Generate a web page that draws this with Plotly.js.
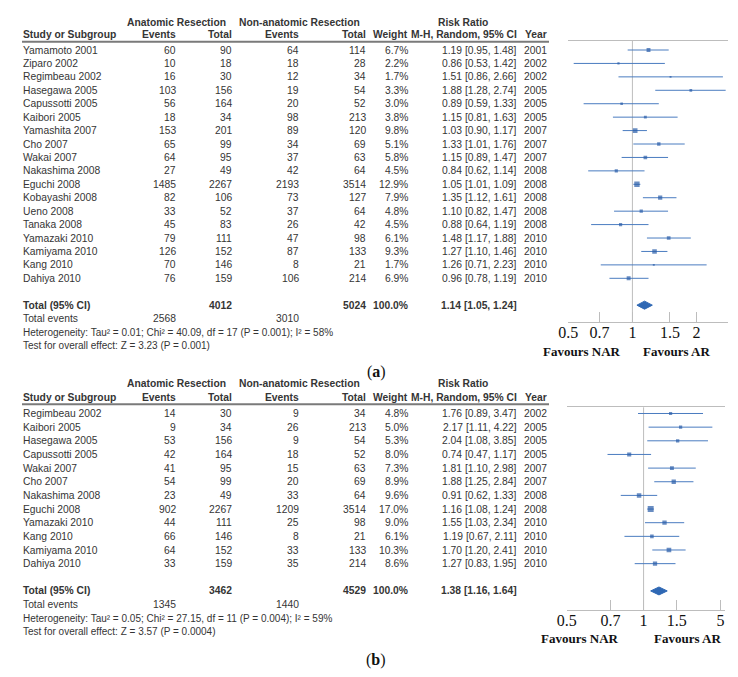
<!DOCTYPE html>
<html><head><meta charset="utf-8">
<script src="https://cdn.plot.ly/plotly-3.0.1.min.js"></script>
<style>html,body{margin:0;padding:0;background:#fff}#chart{width:738px;height:677px}</style>
</head><body><div id="chart"></div>
<script>
// ---------- Panel (a) data ----------
const aStudy = ['Yamamoto 2001','Ziparo 2002','Regimbeau 2002','Hasegawa 2005','Capussotti 2005','Kaibori 2005','Yamashita 2007','Cho 2007','Wakai 2007','Nakashima 2008','Eguchi 2008','Kobayashi 2008','Ueno 2008','Tanaka 2008','Yamazaki 2010','Kamiyama 2010','Kang 2010','Dahiya 2010'];
const aEvAR  = [60,10,16,103,56,18,153,65,64,27,1485,82,33,45,79,126,70,76];
const aTotAR = [90,18,30,156,164,34,201,99,95,49,2267,106,52,83,111,152,146,159];
const aEvNAR = [64,18,12,19,20,98,89,34,37,42,2193,73,37,26,47,87,8,106];
const aTotNAR= [114,28,34,54,52,213,120,69,63,64,3514,127,64,42,98,133,21,214];
const aWeight= [6.7,2.2,1.7,3.3,3.0,3.8,9.8,5.1,5.8,4.5,12.9,7.9,4.8,4.5,6.1,9.3,1.7,6.9];
const aRR    = [1.19,0.86,1.51,1.88,0.89,1.15,1.03,1.33,1.15,0.84,1.05,1.35,1.10,0.88,1.48,1.27,1.26,0.96];
const aLo    = [0.95,0.53,0.86,1.28,0.59,0.81,0.90,1.01,0.89,0.62,1.01,1.12,0.82,0.64,1.17,1.10,0.71,0.78];
const aHi    = [1.48,1.42,2.66,2.74,1.33,1.63,1.17,1.76,1.47,1.14,1.09,1.61,1.47,1.19,1.88,1.46,2.23,1.19];
const aYear  = [2001,2002,2002,2005,2005,2005,2007,2007,2007,2008,2008,2008,2008,2008,2010,2010,2010,2010];
const aTotals = [4012,5024];      // total AR, total NAR
const aTotEvents = [2568,3010];   // events AR, events NAR
const aPooled = [1.14,1.05,1.24]; // RR, lo, hi
const aHet  = 'Heterogeneity: Tau² = 0.01; Chi² = 40.09, df = 17 (P = 0.001); I² = 58%';
const aTest = 'Test for overall effect: Z = 3.23 (P = 0.001)';
const aTickVals = [0.5,0.7,1,1.5,2];
const aTickText = ['0.5','0.7','1','1.5','2'];

// ---------- Panel (b) data ----------
const bStudy = ['Regimbeau 2002','Kaibori 2005','Hasegawa 2005','Capussotti 2005','Wakai 2007','Cho 2007','Nakashima 2008','Eguchi 2008','Yamazaki 2010','Kang 2010','Kamiyama 2010','Dahiya 2010'];
const bEvAR  = [14,9,53,42,41,54,23,902,44,66,64,33];
const bTotAR = [30,34,156,164,95,99,49,2267,111,146,152,159];
const bEvNAR = [9,26,9,18,15,20,33,1209,25,8,33,35];
const bTotNAR= [34,213,54,52,63,69,64,3514,98,21,133,214];
const bWeight= [4.8,5.0,5.3,8.0,7.3,8.9,9.6,17.0,9.0,6.1,10.3,8.6];
const bRR    = [1.76,2.17,2.04,0.74,1.81,1.88,0.91,1.16,1.55,1.19,1.70,1.27];
const bLo    = [0.89,1.11,1.08,0.47,1.10,1.25,0.62,1.08,1.03,0.67,1.20,0.83];
const bHi    = [3.47,4.22,3.85,1.17,2.98,2.84,1.33,1.24,2.34,2.11,2.41,1.95];
const bYear  = [2002,2005,2005,2005,2007,2007,2008,2008,2010,2010,2010,2010];
const bTotals = [3462,4529];
const bTotEvents = [1345,1440];
const bPooled = [1.38,1.16,1.64];
const bHet  = 'Heterogeneity: Tau² = 0.05; Chi² = 27.15, df = 11 (P = 0.004); I² = 59%';
const bTest = 'Test for overall effect: Z = 3.57 (P = 0.0004)';
const bTickVals = [0.2,0.5,1,2,5];
const bTickText = ['0.5','0.7','1','1.5','5'];

const favourLabels = ['Favours NAR','Favours AR'];
const hdrGroups = ['Anatomic Resection','Non-anatomic Resection','Risk Ratio'];
const hdrCols = ['Study or Subgroup','Events','Total','Events','Total','Weight','M-H, Random, 95% CI','Year'];

// ---------- layout helpers ----------
const W = 738, H = 677;
const px = v => v / W;
const py = v => 1 - v / H;
const SANS = 'Liberation Sans, Arial, sans-serif';
const SERIF = 'Liberation Serif, Times New Roman, serif';
const TXT = '#353535';
const colX = {name:23.3, evAR:175.7, totAR:232.3, evNAR:299, totNAR:365.7, weight:407.7, ci:516.7, year:547};

const traces = [], shapes = [], annotations = [];
const layout = {width:W, height:H, margin:{l:0,r:0,t:0,b:0}, paper_bgcolor:'#fff', plot_bgcolor:'rgba(0,0,0,0)', showlegend:false};

function ann(text, x, y, yref, xanchor, opts) {
  annotations.push(Object.assign({text:text, x:x, y:y, xref:'paper', yref:yref, xanchor:xanchor, yanchor:'middle',
    showarrow:false, borderpad:0, borderwidth:0, font:{family:SANS, size:10.3, color:TXT}}, opts || {}));
}

function panel(cfg, d) {
  const xa = cfg.xa, ya = cfg.ya;
  const yk = ya === 'y' ? 'yaxis' : 'yaxis2';
  const xk = xa === 'x' ? 'xaxis' : 'xaxis2';
  const n = d.study.length;
  const idx = d.study.map((_, i) => i);
  const ti = n + 1;
  const rowPx = k => cfg.row0 + k * cfg.dy;
  // axes
  const yTop = (cfg.plotTop - cfg.row0) / cfg.dy, yBot = (cfg.plotBot - cfg.row0) / cfg.dy;
  layout[yk] = {domain:[py(cfg.plotBot), py(cfg.plotTop)], range:[yBot, yTop], anchor:xa,
    showticklabels:false, showline:false, showgrid:false, zeroline:false, ticks:'', fixedrange:true};
  const l0 = Math.log10(d.tickVals[0]);
  layout[xk] = {type:'log', domain:[px(cfg.xL), px(cfg.xR)], range:[l0, l0 + (cfg.xR - cfg.xL) / cfg.ppd], anchor:ya,
    showline:true, mirror:true, linecolor:'#bdbdbd', linewidth:1, ticks:'inside', ticklen:10, tickcolor:'#bdbdbd', tickwidth:1,
    ticklabelstandoff:-4,
    tickvals:d.tickVals, ticktext:d.tickText, tickfont:{family:SERIF, size:16, color:'#111'}, showgrid:false, zeroline:false, fixedrange:true};
  // CI lines
  const cx = [], cy = [];
  for (let i = 0; i < n; i++) { cx.push(d.lo[i], d.hi[i], null); cy.push(i, i, null); }
  traces.push({type:'scatter', mode:'lines', x:cx, y:cy, xaxis:xa, yaxis:ya, line:{color:'#4a7cc0', width:1}, hoverinfo:'skip'});
  traces.push({type:'scatter', mode:'markers', x:d.rr, y:idx, xaxis:xa, yaxis:ya,
    marker:{symbol:'square', size:d.weight.map(w => cfg.mk * Math.sqrt(w)), color:'#2a5ca8', line:{width:0}}});
  // pooled diamond
  const h = cfg.dh;
  traces.push({type:'scatter', mode:'lines', x:[d.pooled[1], d.pooled[0], d.pooled[2], d.pooled[0], d.pooled[1]],
    y:[ti, ti - h, ti, ti + h, ti], xaxis:xa, yaxis:ya, fill:'toself', fillcolor:'#2f68b4', line:{color:'#2f68b4', width:1}});
  // line of no effect
  shapes.push({type:'line', xref:xa, yref:ya + ' domain', x0:1, x1:1, y0:0, y1:1, line:{color:'#bdbdbd', width:1}, layer:'below'});
  // header rule
  shapes.push({type:'line', xref:'paper', yref:'paper', x0:px(22), x1:px(549), y0:py(cfg.rule), y1:py(cfg.rule), line:{color:'#7a7a7a', width:2}});
  // headers
  const hb = s => '<b>' + s + '</b>';
  ann(hb(hdrGroups[0]), px(176), py(cfg.h1), 'paper', 'center');
  ann(hb(hdrGroups[1]), px(299.5), py(cfg.h1), 'paper', 'center');
  ann(hb(hdrGroups[2]), px(462.5), py(cfg.h1), 'paper', 'center');
  const hx = [colX.name, colX.evAR, colX.totAR, colX.evNAR, colX.totNAR, colX.weight, colX.ci, colX.year];
  hdrCols.forEach((t, k) => ann(hb(t), px(hx[k]), py(cfg.h2), 'paper', k === 0 ? 'left' : 'right'));
  // rows
  const ci = (r, lo, hi) => r.toFixed(2) + ' [' + lo.toFixed(2) + ', ' + hi.toFixed(2) + ']';
  for (let i = 0; i < n; i++) {
    ann(d.study[i], px(colX.name), i, ya, 'left');
    ann(String(d.evAR[i]), px(colX.evAR), i, ya, 'right');
    ann(String(d.totAR[i]), px(colX.totAR), i, ya, 'right');
    ann(String(d.evNAR[i]), px(colX.evNAR), i, ya, 'right');
    ann(String(d.totNAR[i]), px(colX.totNAR), i, ya, 'right');
    ann(d.weight[i].toFixed(1) + '%', px(colX.weight), i, ya, 'right');
    ann(ci(d.rr[i], d.lo[i], d.hi[i]), px(colX.ci), i, ya, 'right');
    ann(String(d.year[i]), px(colX.year), i, ya, 'right');
  }
  // totals
  ann(hb('Total (95% CI)'), px(colX.name), ti, ya, 'left');
  ann(hb(String(d.totals[0])), px(colX.totAR), ti, ya, 'right');
  ann(hb(String(d.totals[1])), px(colX.totNAR), ti, ya, 'right');
  ann(hb('100.0%'), px(colX.weight), ti, ya, 'right');
  ann(hb(ci(d.pooled[0], d.pooled[1], d.pooled[2])), px(colX.ci), ti, ya, 'right');
  ann('Total events', px(colX.name), py(rowPx(ti + 1)), 'paper', 'left');
  ann(String(d.totEvents[0]), px(colX.evAR), py(rowPx(ti + 1)), 'paper', 'right');
  ann(String(d.totEvents[1]), px(colX.evNAR), py(rowPx(ti + 1)), 'paper', 'right');
  ann(d.het, px(colX.name), py(rowPx(ti + 2)), 'paper', 'left', {font:{family:SANS, size:10, color:TXT}});
  ann(d.test, px(colX.name), py(rowPx(ti + 3)), 'paper', 'left', {font:{family:SANS, size:10, color:TXT}});
  // favours labels
  const F = {family:SERIF, size:13, color:'#111'};
  ann('<b>' + favourLabels[0] + '</b>', px(cfg.favNAR), py(cfg.favY), 'paper', 'center', {font:F});
  ann('<b>' + favourLabels[1] + '</b>', px(cfg.favAR), py(cfg.favY), 'paper', 'center', {font:F});
  // panel label
  ann('(<b>' + cfg.label + '</b>)', px(cfg.labX), py(cfg.labY), 'paper', 'center', {font:{family:SERIF, size:16, color:'#111'}});
}

panel({xa:'x', ya:'y', row0:50, dy:13.43, h1:22, h2:35, rule:41.7, plotTop:41, plotBot:322, xL:568.3, xR:728, ppd:213,
       mk:1.5, dh:0.3, favY:351.7, favNAR:582, favAR:676, label:'a', labX:376, labY:372},
  {study:aStudy, evAR:aEvAR, totAR:aTotAR, evNAR:aEvNAR, totNAR:aTotNAR, weight:aWeight, rr:aRR, lo:aLo, hi:aHi, year:aYear,
   totals:aTotals, totEvents:aTotEvents, pooled:aPooled, het:aHet, test:aTest, tickVals:aTickVals, tickText:aTickText});

panel({xa:'x2', ya:'y2', row0:413.5, dy:13.65, h1:383, h2:397, rule:404.3, plotTop:407.3, plotBot:610, xL:566.7, xR:725, ppd:110,
       mk:1.45, dh:0.29, favY:638.3, favNAR:580, favAR:687, label:'b', labX:376, labY:660},
  {study:bStudy, evAR:bEvAR, totAR:bTotAR, evNAR:bEvNAR, totNAR:bTotNAR, weight:bWeight, rr:bRR, lo:bLo, hi:bHi, year:bYear,
   totals:bTotals, totEvents:bTotEvents, pooled:bPooled, het:bHet, test:bTest, tickVals:bTickVals, tickText:bTickText});

traces.forEach(t => { t.showlegend = false; if (!t.hoverinfo) t.hoverinfo = 'skip'; });
layout.shapes = shapes;
layout.annotations = annotations;
Plotly.newPlot('chart', traces, layout, {staticPlot:true, displayModeBar:false});
</script></body></html>
